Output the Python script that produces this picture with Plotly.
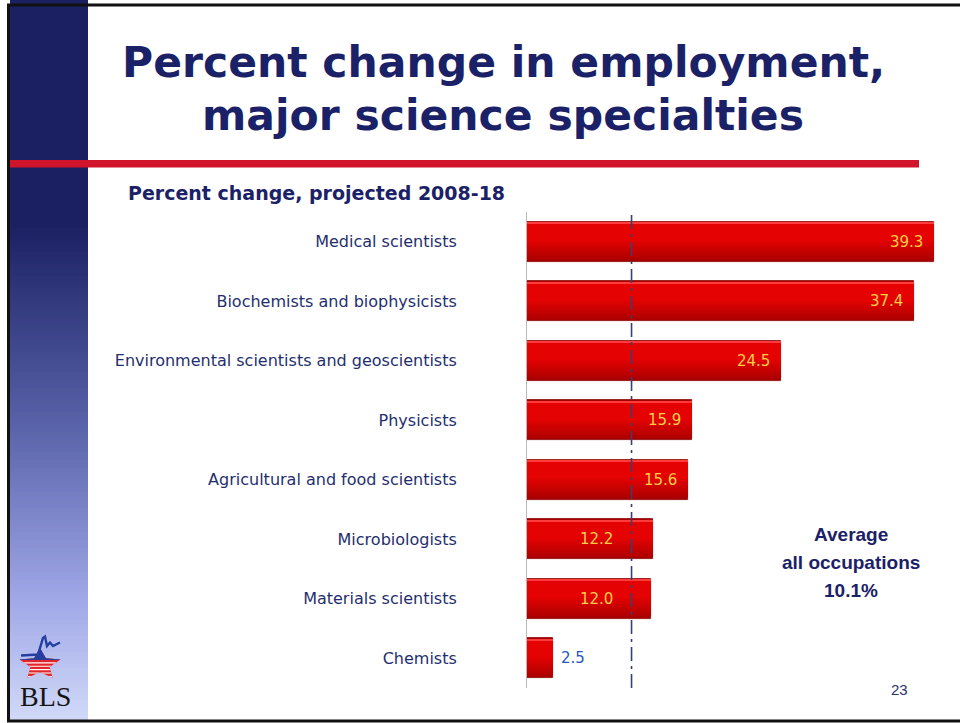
import math
import plotly.graph_objects as go

# ---------------- data ----------------
categories = [
    "Medical scientists",
    "Biochemists and biophysicists",
    "Environmental scientists and geoscientists",
    "Physicists",
    "Agricultural and food scientists",
    "Microbiologists",
    "Materials scientists",
    "Chemists",
]
values = [39.3, 37.4, 24.5, 15.9, 15.6, 12.2, 12.0, 2.5]
average_all = 10.1

title_lines = ["Percent change in employment,", "major science specialties"]
subtitle = "Percent change, projected 2008-18"
avg_lines = ["Average", "all occupations", "10.1%"]
page_number = "23"

# ---------------- layout helpers ----------------
W, H = 960, 723
ML, MR, MT, MB = 527, 19, 212, 35
PW, PH = W - ML - MR, H - MT - MB
XMAX = 40.0
SCALE = PW / XMAX  # px per unit


def px(x):
    return (x - ML) / PW


def py(y):
    return (H - MB - y) / PH


def lerp(c1, c2, t):
    return tuple(round(a + (b - a) * t) for a, b in zip(c1, c2))


def rgb(c):
    return "rgb(%d,%d,%d)" % c


NAVY = "#1b2167"
LABEL = "#1f2f6e"

fig = go.Figure()

bar_w = 0.672
top = -bar_w / 2
# base (dark) bar with outline
fig.add_trace(go.Bar(
    y=categories, x=values, orientation="h", width=bar_w,
    marker=dict(color="#a80000", line=dict(color="#8c0000", width=0.8)),
    hoverinfo="skip", showlegend=False,
))
# gradient: bands anchored at the top, brighter as they get narrower
N = 10
dark, bright = (172, 0, 0), (228, 2, 2)
for k in range(1, N + 1):
    frac = 1 - 0.5 * k / N
    col = lerp(dark, bright, k / N)
    fig.add_trace(go.Bar(
        y=categories, x=values, orientation="h", width=bar_w * frac - 0.01, offset=top + 0.005,
        marker=dict(color=rgb(col), line=dict(width=0)),
        hoverinfo="skip", showlegend=False,
    ))
# thin light highlight on top
fig.add_trace(go.Bar(
    y=categories, x=values, orientation="h", width=0.035, offset=top + 0.005,
    marker=dict(color="#ff3c3c", line=dict(width=0)),
    hoverinfo="skip", showlegend=False,
))

annotations = []
# value labels
for cat, v in zip(categories, values):
    end_px = v * SCALE
    avg_px = average_all * SCALE
    if end_px < 45:
        annotations.append(dict(text="%.1f" % v, x=v, y=cat, xref="x", yref="y",
                                xanchor="left", yanchor="middle", xshift=6, showarrow=False,
                                font=dict(family="DejaVu Sans", size=15, color="#2855c0")))
    else:
        if end_px - avg_px < 40:
            xa, shift = average_all, -17
        else:
            xa, shift = v, -9
        annotations.append(dict(text="%.1f" % v, x=xa, y=cat, xref="x", yref="y",
                                xanchor="right", yanchor="middle", xshift=shift, showarrow=False,
                                font=dict(family="DejaVu Sans", size=15, color="#ffcf45")))

shapes = []

# left gradient sidebar
stops = [(0, (27, 32, 99)), (225, (27, 32, 99)), (430, (90, 100, 170)),
         (600, (160, 168, 232)), (722, (210, 218, 248))]
step = 4
for y0 in range(0, 722, step):
    yc = y0 + step / 2
    c = stops[-1][1]
    for (ya, ca), (yb, cb) in zip(stops[:-1], stops[1:]):
        if ya <= yc <= yb:
            c = lerp(ca, cb, (yc - ya) / (yb - ya) if yb > ya else 0)
            break
    shapes.append(dict(type="rect", xref="paper", yref="paper",
                       x0=px(10), x1=px(88), y0=py(y0), y1=py(min(y0 + step + 0.5, 722)),
                       fillcolor=rgb(c), line=dict(width=0), layer="below"))

# slide frame
shapes.append(dict(type="line", xref="paper", yref="paper", x0=px(7), x1=px(960),
                   y0=py(5), y1=py(5), line=dict(color="#111", width=3)))
shapes.append(dict(type="line", xref="paper", yref="paper", x0=px(8.5), x1=px(8.5),
                   y0=py(4), y1=py(722), line=dict(color="#111", width=3)))
shapes.append(dict(type="line", xref="paper", yref="paper", x0=px(7), x1=px(960),
                   y0=py(721), y1=py(721), line=dict(color="#111", width=3)))
# red rule
shapes.append(dict(type="rect", xref="paper", yref="paper", x0=px(10), x1=px(919),
                   y0=py(160), y1=py(167.5), fillcolor="#d0142c", line=dict(width=0)))

# average line
shapes.append(dict(type="line", xref="x", yref="paper", x0=average_all, x1=average_all,
                   y0=0, y1=1, layer="above",
                   line=dict(color="#3b3f6e", width=1.6, dash="14px,5px,3px,5px")))

# ---- BLS logo: star with blue top and red/white stripes ----
cx, cy, Rx, Ry = 40.0, 664.5, 21.5, 16.5
inner = 0.47
star = []
for k in range(10):
    ang = -math.pi / 2 + k * math.pi / 5
    f = 1.0 if k % 2 == 0 else inner
    star.append((cx + Rx * f * math.cos(ang), cy + Ry * f * math.sin(ang)))


def clip_band(poly, ya, yb):
    def clip(pts, inside, inter):
        out = []
        n = len(pts)
        for i in range(n):
            cur, prev = pts[i], pts[i - 1]
            if inside(cur):
                if not inside(prev):
                    out.append(inter(prev, cur))
                out.append(cur)
            elif inside(prev):
                out.append(inter(prev, cur))
        return out

    def inter_y(yv):
        def f(p, q):
            t = (yv - p[1]) / (q[1] - p[1])
            return (p[0] + t * (q[0] - p[0]), yv)
        return f

    pts = clip(poly, lambda p: p[1] >= ya, inter_y(ya))
    if pts:
        pts = clip(pts, lambda p: p[1] <= yb, inter_y(yb))
    return pts


def path_of(pts, close=True):
    s = "M " + " L ".join("%.5f,%.5f" % (px(x), py(y)) for x, y in pts) + (" Z" if close else "")
    return s

BLUE = "#2340a0"
# whole star red
shapes.append(dict(type="path", xref="paper", yref="paper", path=path_of(star),
                   fillcolor="#e3242b", line=dict(width=0)))
# blue top
pts = clip_band(star, 640, 660.0)
shapes.append(dict(type="path", xref="paper", yref="paper", path=path_of(pts),
                   fillcolor=BLUE, line=dict(width=0)))
# white stripes
ys = 662.3
while ys < 684:
    pts = clip_band(star, ys, ys + 1.1)
    if len(pts) >= 3:
        shapes.append(dict(type="path", xref="paper", yref="paper", path=path_of(pts),
                           fillcolor="#ffffff", line=dict(width=0)))
    ys += 3.4
# squiggle
sq = [(21, 655.5), (38, 654.5), (43, 638), (45, 636.5), (47, 646), (50, 642.5), (53, 646), (60, 642.5)]
shapes.append(dict(type="path", xref="paper", yref="paper", path=path_of(sq, close=False),
                   line=dict(color=BLUE, width=2.4)))

annotations.append(dict(text="BLS", xref="paper", yref="paper", x=px(45), y=py(696),
                        showarrow=False, xanchor="center", yanchor="middle",
                        font=dict(family="Liberation Serif", size=28, color="#151515")))

for txt, yy in zip(title_lines, [62, 115]):
    annotations.append(dict(text="<b>%s</b>" % txt, xref="paper", yref="paper",
                            x=px(503), y=py(yy), showarrow=False,
                            xanchor="center", yanchor="middle",
                            font=dict(family="DejaVu Sans", size=42.5, color=NAVY)))
annotations.append(dict(text="<b>%s</b>" % subtitle, xref="paper", yref="paper",
                        x=px(126), y=py(193), showarrow=False,
                        xanchor="left", yanchor="middle",
                        font=dict(family="DejaVu Sans", size=19, color=NAVY)))
for txt, yy in zip(avg_lines, [534, 562, 590]):
    annotations.append(dict(text="<b>%s</b>" % txt, xref="paper", yref="paper",
                            x=px(851), y=py(yy), showarrow=False,
                            xanchor="center", yanchor="middle",
                            font=dict(family="Liberation Sans", size=19, color=NAVY)))
annotations.append(dict(text=page_number, xref="paper", yref="paper",
                        x=px(899), y=py(689), showarrow=False,
                        xanchor="center", yanchor="middle",
                        font=dict(family="Liberation Sans", size=15, color="#2a3070")))

fig.update_layout(
    width=W, height=H,
    margin=dict(l=ML, r=MR, t=MT, b=MB, pad=0),
    paper_bgcolor="white", plot_bgcolor="white",
    barmode="overlay", bargap=0,
    showlegend=False,
    shapes=shapes, annotations=annotations,
    xaxis=dict(range=[0, XMAX], visible=False, showgrid=False, zeroline=False, fixedrange=True),
    yaxis=dict(type="category", categoryorder="array", categoryarray=categories,
               autorange="reversed", showgrid=False, zeroline=False,
               showline=True, linecolor="#b8b8b8", linewidth=1,
               ticks="", ticklabelstandoff=66, fixedrange=True,
               tickfont=dict(family="DejaVu Sans", size=16, color=LABEL)),
)

fig.write_html("out.html", config={"displayModeBar": False},
               post_script="document.body.style.margin='0';")
